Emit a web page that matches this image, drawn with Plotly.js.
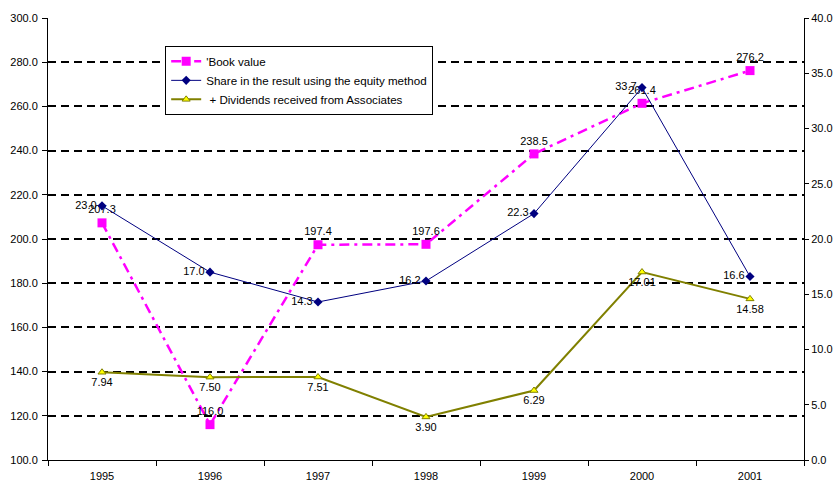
<!DOCTYPE html>
<html>
<head>
<meta charset="utf-8">
<script src="https://cdn.plot.ly/plotly-3.0.1.min.js"></script>
<style>html,body{margin:0;padding:0;background:#fff;}#chart{width:833px;height:484px;}</style>
</head>
<body>
<div id="chart"></div>
<script>
var years = ["1995", "1996", "1997", "1998", "1999", "2000", "2001"];
var bookValue = [207.3, 116.0, 197.4, 197.6, 238.5, 261.4, 276.2];
var shareResult = [23.0, 17.0, 14.3, 16.2, 22.3, 33.7, 16.6];
var dividends = [7.94, 7.50, 7.51, 3.90, 6.29, 17.01, 14.58];
var leftTicks = [100, 120, 140, 160, 180, 200, 220, 240, 260, 280, 300];
var rightTicks = [0, 5, 10, 15, 20, 25, 30, 35, 40];

var font = {family: "Liberation Sans, Arial, sans-serif", size: 11, color: "#000"};

var traces = [
  {
    x: years, y: bookValue, name: "'Book value", type: "scatter", mode: "lines+markers+text",
    yaxis: "y",
    line: {color: "#FF00FF", width: 2.5, dash: "10px,5px,3px,5px"},
    marker: {symbol: "square", size: 9, color: "#FF00FF"},
    text: bookValue.map(function(v){return v.toFixed(1);}),
    textposition: "top center", textfont: font, cliponaxis: false
  },
  {
    x: years, y: shareResult, name: "Share in the result using the equity method", type: "scatter", mode: "lines+markers+text",
    yaxis: "y2",
    line: {color: "#000080", width: 1},
    marker: {symbol: "diamond", size: 7, color: "#000080"},
    text: shareResult.map(function(v){return v.toFixed(1);}),
    textposition: "middle left", textfont: font, cliponaxis: false
  },
  {
    x: years, y: dividends, name: " + Dividends received from Associates", type: "scatter", mode: "lines+markers+text",
    yaxis: "y2",
    line: {color: "#808000", width: 2},
    marker: {symbol: "triangle-up", size: 7, color: "#FFFF00", line: {color: "#808000", width: 1}},
    text: dividends.map(function(v){return v.toFixed(2);}),
    textposition: "bottom center", textfont: font, cliponaxis: false
  }
];

var layout = {
  width: 833, height: 484, autosize: false,
  margin: {l: 48, r: 29, t: 18, b: 24, pad: 0},
  paper_bgcolor: "#fff", plot_bgcolor: "#fff",
  font: font,
  showlegend: true,
  legend: {
    x: 0.155, y: 0.937, xanchor: "left", yanchor: "top",
    bgcolor: "#fff", bordercolor: "#000", borderwidth: 1,
    font: {family: "Liberation Sans, Arial, sans-serif", size: 11.6, color: "#000"},
    tracegroupgap: 0, itemwidth: 30
  },
  xaxis: {
    type: "category", range: [-0.5, 6.5],
    showline: true, linecolor: "#000", linewidth: 1,
    ticks: "outside", ticklen: 5, tickcolor: "#000", tickson: "boundaries",
    showgrid: false, zeroline: false, ticklabelstandoff: 6,
    tickfont: font
  },
  yaxis: {
    range: [100, 300], tickvals: leftTicks, ticktext: leftTicks.map(function(v){return v.toFixed(1);}),
    showline: true, linecolor: "#000", linewidth: 1,
    ticks: "outside", ticklen: 5, tickcolor: "#000",
    showgrid: true, gridcolor: "#000", gridwidth: 2, griddash: "8px,5px",
    zeroline: false, tickfont: font, ticklabelstandoff: 2
  },
  yaxis2: {
    range: [0, 40], tickvals: rightTicks, ticktext: rightTicks.map(function(v){return v.toFixed(1);}),
    overlaying: "y", side: "right",
    showline: true, linecolor: "#000", linewidth: 1,
    ticks: "outside", ticklen: 4, tickcolor: "#000",
    showgrid: false, zeroline: false,
    tickfont: font
  }
};

Plotly.newPlot("chart", traces, layout, {displayModeBar: false, staticPlot: true});
</script>
</body>
</html>
